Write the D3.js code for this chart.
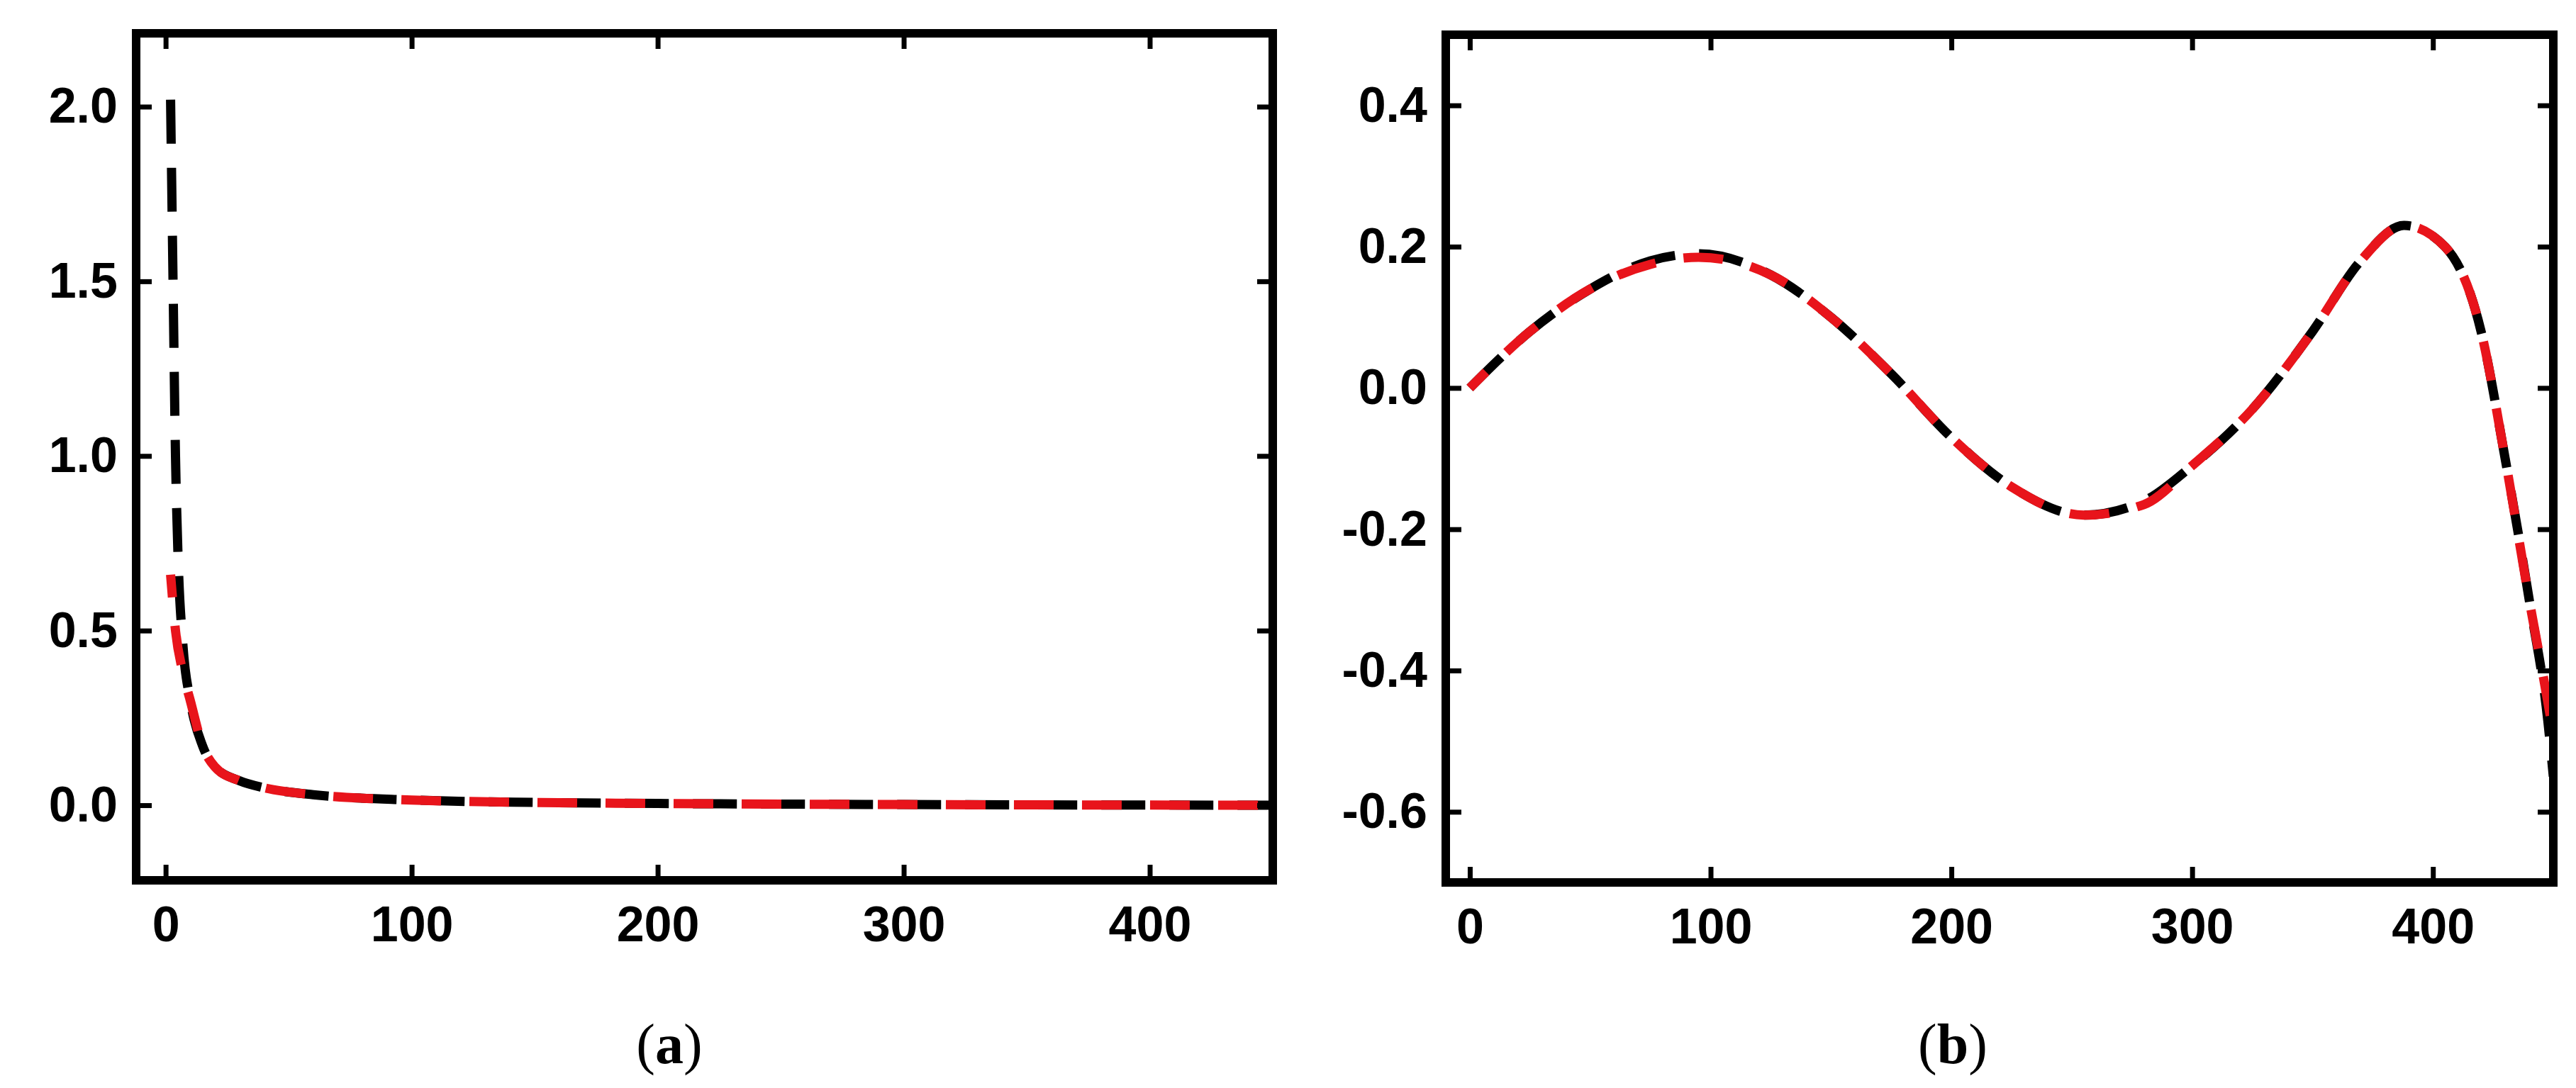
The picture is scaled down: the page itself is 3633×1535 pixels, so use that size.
<!DOCTYPE html>
<html><head><meta charset="utf-8">
<script src="https://cdn.jsdelivr.net/npm/d3@7"></script>
<style>body{margin:0;background:#fff}text{font-family:"Liberation Sans",Arial,sans-serif}</style>
</head><body><svg id="c" width="3633" height="1535"></svg>
<script>
// panel (a)
var aBlackX = [2,3,4,5,7,10,15,20,30,40,60,100,150,200,300,450];
var aBlackY = [2.02,1.5,1.0,0.72,0.46,0.3,0.17,0.11,0.07,0.05,0.03,0.015,0.008,0.005,0.002,0.0];
var aRedX = [2,4,7,10,15,20,30,40,60,100,150,200,300,450];
var aRedY = [0.66,0.5,0.38,0.3,0.17,0.11,0.07,0.05,0.03,0.015,0.008,0.005,0.002,0.0];
var aYTicks = [0.0,0.5,1.0,1.5,2.0];
// panel (b)
var bBlackX = [0,25,50,75,95,125,150,175,200,225,255,280,300,325,350,370,388,405,420,430,440,448,450];
var bBlackY = [0,0.08,0.14,0.18,0.19,0.16,0.1,0.02,-0.07,-0.14,-0.18,-0.16,-0.11,-0.03,0.08,0.18,0.23,0.2,0.08,-0.1,-0.3,-0.48,-0.55];
var bRedX = bBlackX.slice(0,22).concat([449]);
var bRedY = [0,0.08,0.14,0.175,0.185,0.16,0.1,0.02,-0.07,-0.14,-0.18,-0.165,-0.11,-0.03,0.08,0.18,0.23,0.2,0.08,-0.1,-0.3,-0.45,-0.47];
var bYTicks = [-0.6,-0.4,-0.2,0.0,0.2,0.4];
var xTicks = [0,100,200,300,400];

var svg = d3.select("#c");

function panel(o){
	var x = d3.scaleLinear().domain(o.xd).range([o.l,o.r]);
	var y = d3.scaleLinear().domain(o.yd).range([o.b,o.t]);
	var g = svg.append("g");
	var clip = "clip"+o.id;
	g.append("clipPath").attr("id",clip).append("rect")
		.attr("x",o.l).attr("y",o.t).attr("width",o.r-o.l).attr("height",o.b-o.t);
	var line = d3.line().x(function(d){return x(d[0])}).y(function(d){return y(d[1])}).curve(d3.curveMonotoneX);
	var cg = g.append("g").attr("clip-path","url(#"+clip+")");
	cg.append("path").datum(d3.zip(o.bx,o.by)).attr("d",line)
		.attr("fill","none").attr("stroke","#000").attr("stroke-width",13).attr("stroke-dasharray","62,34");
	cg.append("path").datum(d3.zip(o.rx,o.ry)).attr("d",line)
		.attr("fill","none").attr("stroke","#e8141b").attr("stroke-width",13).attr("stroke-dasharray","56,40").attr("stroke-dashoffset",24);
	// axes, ticks inward on all sides
	var ax = [
		[d3.axisBottom(x).tickValues(xTicks), o.b, true],
		[d3.axisTop(x).tickValues(xTicks), o.t, false]
	];
	ax.forEach(function(a){
		var s = g.append("g").attr("transform","translate(0,"+a[1]+")")
			.call(a[0].tickSizeInner(-22).tickSizeOuter(0).tickPadding(40).tickFormat(a[2]?d3.format("d"):""));
		s.select(".domain").remove();
		s.selectAll("line").attr("stroke-width",7);
		s.selectAll("text").attr("font-size",70).attr("font-weight","bold").attr("dy","0.71em").attr("y",36);
	});
	var fmt = d3.format(".1f");
	[[d3.axisLeft(y), o.l, true],[d3.axisRight(y), o.r, false]].forEach(function(a){
		var s = g.append("g").attr("transform","translate("+a[1]+",0)")
			.call(a[0].tickValues(o.yt).tickSizeInner(-22).tickSizeOuter(0).tickPadding(26)
				.tickFormat(a[2]?function(d){return fmt(d).replace("−","-")}:""));
		s.select(".domain").remove();
		s.selectAll("line").attr("stroke-width",7);
		s.selectAll("text").attr("font-size",70).attr("font-weight","bold");
	});
	g.append("rect").attr("x",o.l).attr("y",o.t).attr("width",o.r-o.l).attr("height",o.b-o.t)
		.attr("fill","none").attr("stroke","#000").attr("stroke-width",12);
	g.append("text").attr("x",o.cx).attr("y",1500).attr("text-anchor","middle")
		.style("font-family","'Liberation Serif','Times New Roman',serif").attr("font-size",80)
		.html('(<tspan font-weight="bold">'+o.id+'</tspan>)');
}

panel({id:"a",l:192,r:1795,t:47,b:1242,xd:[-12,450],yd:[-0.215,2.21],
	bx:aBlackX,by:aBlackY,rx:aRedX,ry:aRedY,yt:aYTicks,cx:944});
panel({id:"b",l:2039,r:3601,t:49,b:1245,xd:[-10,450],yd:[-0.7,0.5],
	bx:bBlackX,by:bBlackY,rx:bRedX,ry:bRedY,yt:bYTicks,cx:2754});
</script></body></html>
